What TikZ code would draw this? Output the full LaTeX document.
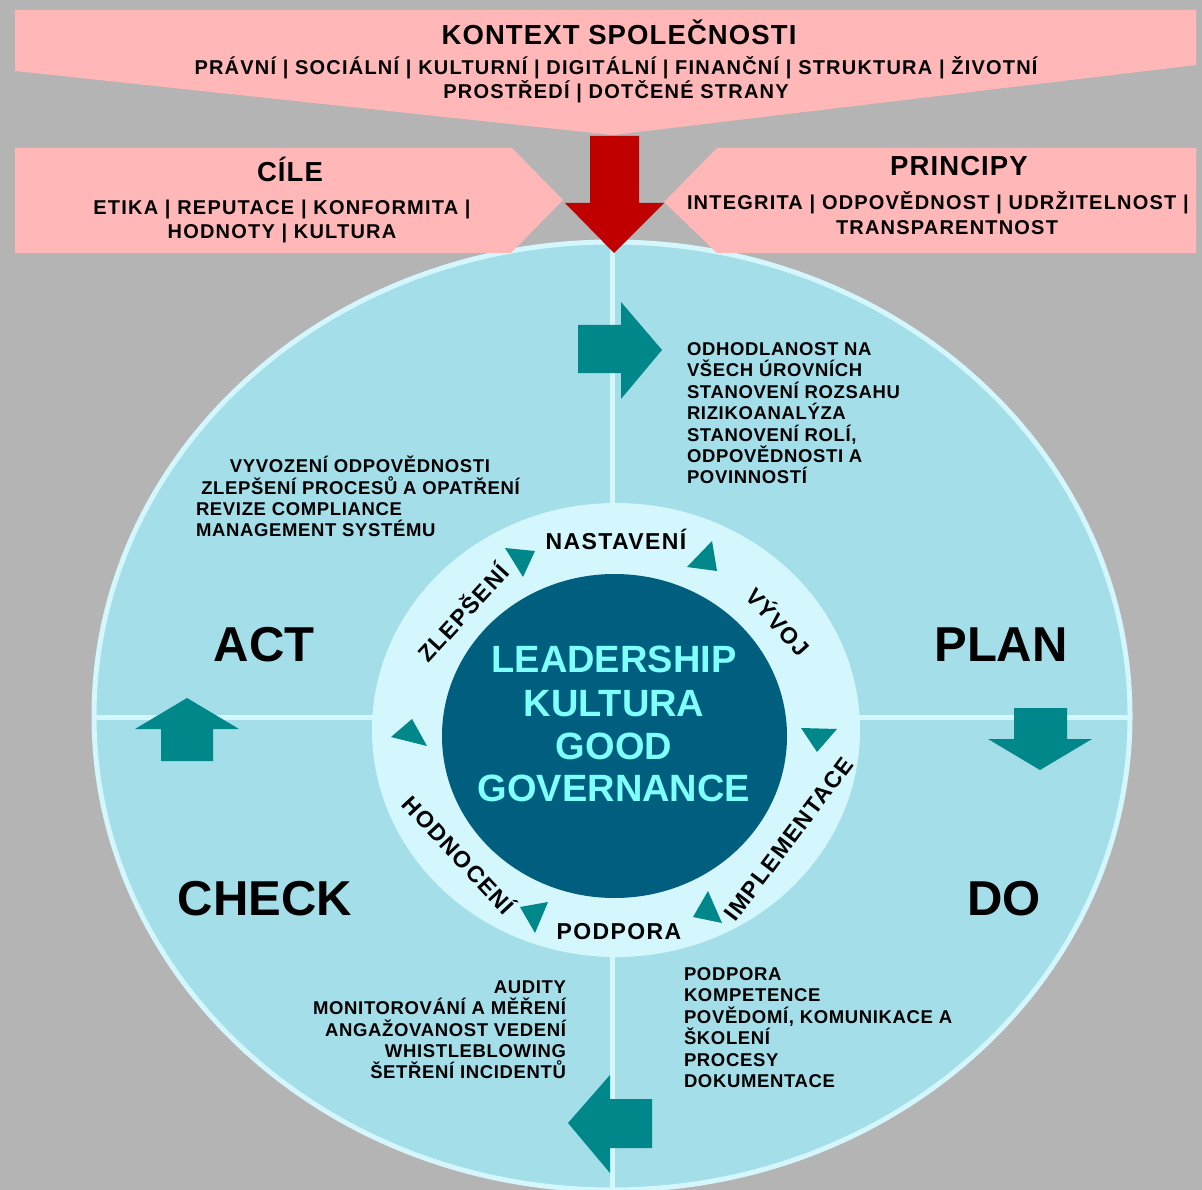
\documentclass[tikz,border=0pt]{standalone}
\usepackage{fontspec}
\setmainfont{Liberation Sans}
\newfontfamily\hdrfont[LetterSpace=4]{Liberation Sans}
\newfontfamily\subfont[LetterSpace=6]{Liberation Sans}
\newfontfamily\itemfont[LetterSpace=3.5]{Liberation Sans}
\newfontfamily\ringfont[LetterSpace=6]{Liberation Sans}
\definecolor{bggray}{HTML}{B4B4B4}
\definecolor{pinkc}{HTML}{FFB7B7}
\definecolor{redc}{HTML}{C00000}
\definecolor{ellc}{HTML}{A3DEE9}
\definecolor{lightc}{HTML}{D3F7FC}
\definecolor{tealc}{HTML}{00878A}
\definecolor{darkc}{HTML}{005F7F}
\definecolor{cyantxt}{HTML}{80FFFF}
\begin{document}
\begin{tikzpicture}[x=1pt,y=-1pt,
  every node/.style={inner sep=0pt,outer sep=0pt},
  hdr/.style={font=\hdrfont\fontsize{27.5}{30}\selectfont\bfseries},
  sub/.style={font=\subfont\fontsize{20}{24}\selectfont\bfseries},
  quad/.style={font=\fontsize{49}{55}\selectfont\bfseries},
  item/.style={font=\itemfont\fontsize{18.5}{21.4}\selectfont\bfseries},
  ring/.style={font=\ringfont\fontsize{23}{26}\selectfont\bfseries},
  core/.style={font=\fontsize{38}{43}\selectfont\bfseries,text=cyantxt},
  tealshape/.style={fill=tealc}
]
\useasboundingbox (0,0) rectangle (1202,1190);
\fill[bggray] (0,0) rectangle (1202,1190);
\begin{scope}
\clip (0,0) rectangle (1202,1190);
% big ellipse
\fill[ellc] (612,716) ellipse [x radius=518, y radius=474];
\begin{scope}
\clip (612,716) ellipse [x radius=518, y radius=474];
\draw[lightc,line width=5pt] (612,200) -- (612,1200);
\draw[lightc,line width=5pt] (80,717) -- (1140,717);
\end{scope}
\draw[lightc,line width=5pt] (612,716) ellipse [x radius=518, y radius=474];
\end{scope}
% top banner
\fill[pinkc] (15,10) -- (1196,10) -- (1196,65) -- (613,135) -- (15,71) -- cycle;
% CILE and PRINCIPY chevrons
\fill[pinkc] (15,148) -- (512,148) -- (563,200) -- (511,253) -- (15,253) -- cycle;
\fill[pinkc] (1196,148) -- (717,148) -- (664,202) -- (717,253) -- (1196,253) -- cycle;
% red arrow
\fill[redc] (590,136) -- (639,136) -- (639,203) -- (664,203) -- (614,253) -- (565,203) -- (590,203) -- cycle;
% inner disc and dark core
\fill[lightc] (616,730) ellipse [x radius=244, y radius=227];
\fill[darkc] (614.5,736) ellipse [x radius=172.5, y radius=162];
% teal block arrows
\fill[tealshape] (578,325) -- (621,325) -- (621,302) -- (662,350) -- (621,399) -- (621,373) -- (578,373) -- cycle;
\fill[tealshape] (1014,708) -- (1067,708) -- (1067,739) -- (1092,739) -- (1040,770) -- (988,739) -- (1014,739) -- cycle;
\fill[tealshape] (187,698) -- (239,729) -- (213,729) -- (213,761) -- (161,761) -- (161,729) -- (135,729) -- cycle;
\fill[tealshape] (568,1123) -- (610,1075) -- (610,1099) -- (652,1099) -- (652,1148) -- (610,1148) -- (610,1173) -- cycle;
% small ring triangles
\fill[tealshape] (505,548) -- (535,551) -- (523,577) -- cycle;
\fill[tealshape] (712,541) -- (717,571) -- (687,567) -- cycle;
\fill[tealshape] (801,728) -- (837,729) -- (817,752) -- cycle;
\fill[tealshape] (708,891) -- (722,923) -- (693,917) -- cycle;
\fill[tealshape] (520,907) -- (548,902) -- (535,933) -- cycle;
\fill[tealshape] (412,719) -- (427,746) -- (391,737) -- cycle;
% header texts
\node[hdr,anchor=base] (kontext) at (619,45) {KONTEXT SPOLEČNOSTI};
\node[sub,anchor=base] (kontext1) at (616,74.7) {PRÁVNÍ | SOCIÁLNÍ | KULTURNÍ | DIGITÁLNÍ | FINANČNÍ | STRUKTURA | ŽIVOTNÍ};
\node[sub,anchor=base] (kontext2) at (616,98.7) {PROSTŘEDÍ | DOTČENÉ STRANY};
\node[hdr,anchor=base] (cile) at (290,182) {CÍLE};
\node[sub,anchor=base] (cile1) at (282,214.7) {ETIKA | REPUTACE | KONFORMITA |};
\node[sub,anchor=base] (cile2) at (282,238.7) {HODNOTY | KULTURA};
\node[hdr,anchor=base] (principy) at (959,176) {PRINCIPY};
\node[sub,anchor=base west] (principy1) at (687,209.7) {INTEGRITA | ODPOVĚDNOST | UDRŽITELNOST |};
\node[sub,anchor=base] (principy2) at (947,234.7) {TRANSPARENTNOST};
% quadrant words
\node[quad,anchor=base] (plan) at (1001,661) {PLAN};
\node[quad,anchor=base] (act) at (264,661) {ACT};
\node[quad,anchor=base] (check) at (265,915) {CHECK};
\node[quad,anchor=base] (do) at (1004,915) {DO};
% quadrant item lists
\node[item,anchor=north west,align=left] (planlist) at (687,342.5) {ODHODLANOST NA\\VŠECH ÚROVNÍCH\\STANOVENÍ ROZSAHU\\RIZIKOANALÝZA\\STANOVENÍ ROLÍ,\\ODPOVĚDNOSTI A\\POVINNOSTÍ};
\node[item,anchor=base] (act1) at (360,472.7) {VYVOZENÍ ODPOVĚDNOSTI};
\node[item,anchor=base] (act2) at (360.5,494.7) {ZLEPŠENÍ PROCESŮ A OPATŘENÍ};
\node[item,anchor=base west] (act3) at (196,515.7) {REVIZE COMPLIANCE};
\node[item,anchor=base west] (act4) at (196,536.7) {MANAGEMENT SYSTÉMU};
\node[item,anchor=north east,align=right] (checklist) at (566,980.5) {AUDITY\\MONITOROVÁNÍ A MĚŘENÍ\\ANGAŽOVANOST VEDENÍ\\WHISTLEBLOWING\\ŠETŘENÍ INCIDENTŮ};
\node[item,anchor=north west,align=left] (dolist) at (684,967.5) {PODPORA\\KOMPETENCE\\POVĚDOMÍ, KOMUNIKACE A\\ŠKOLENÍ\\PROCESY\\DOKUMENTACE};
% ring labels
\node[ring,anchor=base] (nastaveni) at (616,549) {NASTAVENÍ};
\node[ring,rotate=-48] (vyvoj) at (779,621) {VÝVOJ};
\node[ring,rotate=53] (implementace) at (789,839) {IMPLEMENTACE};
\node[ring,anchor=base] (podpora) at (619,939) {PODPORA};
\node[ring,rotate=-47] (hodnoceni) at (460,854) {HODNOCENÍ};
\node[ring,rotate=47.5] (zlepseni) at (462,612) {ZLEPŠENÍ};
% core text
\node[core,anchor=base] (core1) at (614,672) {LEADERSHIP};
\node[core,anchor=base] (core2) at (614,716) {KULTURA};
\node[core,anchor=base] (core3) at (614,759) {GOOD};
\node[core,anchor=base] (core4) at (614,801) {GOVERNANCE};
\end{tikzpicture}
\end{document}
